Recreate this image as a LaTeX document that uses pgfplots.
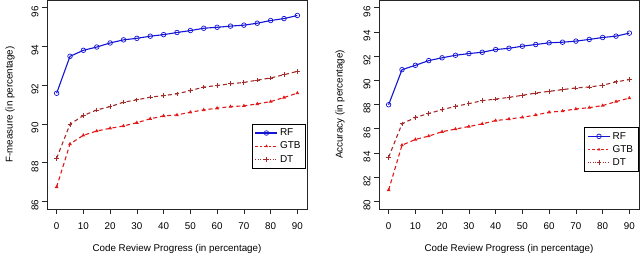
\documentclass[border=0pt]{standalone}
\usepackage{pgfplots}
\pgfplotsset{compat=1.18}
\usepackage{fontspec}
\setmainfont{Liberation Sans}
\definecolor{rfblue}{RGB}{20,20,215}
\definecolor{gtbred}{RGB}{225,25,25}
\definecolor{dtbrown}{RGB}{165,42,42}
\pgfplotsset{
 myaxis/.style={
  scale only axis, width=260bp, height=209bp,
  xmin=-3.6, xmax=93.6,
  xtick={0,10,...,90},
  tick align=outside, major tick length=5bp,
  xtick pos=left, ytick pos=left,
  font=\fontsize{9.8bp}{11bp}\selectfont,
  /pgf/number format/assume math mode=true,
  xticklabel style={yshift=-5bp},
  yticklabel style={rotate=90, anchor=south, xshift=-4bp},
  xlabel={Code Review Progress (in percentage)},
  every axis x label/.style={at={(axis description cs:0.5,-0.193)}, anchor=center},
  axis line style={black!85, line width=0.7bp},
  tick style={black!85, line width=0.7bp},
  legend style={draw=black, line width=0.8bp, fill=white, font=\fontsize{10bp}{10bp}\selectfont,
    inner xsep=3bp, inner ysep=2.5bp, row sep=0.8bp, anchor=north east,
    /tikz/every even column/.append style={column sep=4bp}},
  legend cell align=left,
  legend image code/.code={\draw[mark repeat=2,mark phase=2,##1] plot coordinates {(0bp,0bp) (11bp,0bp) (22bp,0bp)};},
 },
 rf/.style={rfblue, line width=1.1bp, mark=o, mark size=2.3bp, mark options={solid, line width=0.7bp}},
 gtb/.style={gtbred, line width=1.1bp, dash pattern=on 4bp off 3bp, mark=triangle*, mark size=1.1bp, mark options={solid}},
 dt/.style={dtbrown, line width=1.1bp, dash pattern=on 4bp off 3bp, mark=+, mark size=2.3bp, mark options={solid, line width=0.8bp}},
 gtbleg/.style={legend image code/.code={\draw[mark repeat=2,mark phase=2,##1, dash pattern=on 2.5bp off 2bp, line width=0.7bp] plot coordinates {(0bp,0bp) (11bp,0bp) (22bp,0bp)};}},
 dtleg/.style={legend image code/.code={\draw[mark repeat=2,mark phase=2,##1, dash pattern=on 1bp off 1.5bp, line width=0.7bp] plot coordinates {(0bp,0bp) (11bp,0bp) (22bp,0bp)};}},
}
\begin{document}
\begin{tikzpicture}
\path[use as bounding box] (0,0) rectangle (640bp,261bp);
\begin{axis}[myaxis, at={(47bp,52bp)}, anchor=south west,
  ymin=85.6, ymax=96.4, ytick={86,88,...,96},
  ylabel={F-measure (in percentage)},
  every axis y label/.style={at={(axis description cs:-0.142,0.5)}, rotate=90, anchor=center},
  legend style={at={(axis description cs:0.996,0.407)}}]
\addplot[rf] coordinates {(0,91.58)(5,93.49)(10,93.80)(15,93.97)(20,94.18)(25,94.34)(30,94.42)(35,94.53)(40,94.61)(45,94.72)(50,94.82)(55,94.94)(60,94.99)(65,95.05)(70,95.10)(75,95.20)(80,95.34)(85,95.44)(90,95.60)};
\addlegendentry{RF}
\addplot[gtb, gtbleg] coordinates {(0,86.74)(5,88.96)(10,89.41)(15,89.63)(20,89.77)(25,89.89)(30,90.06)(35,90.26)(40,90.41)(45,90.46)(50,90.60)(55,90.72)(60,90.81)(65,90.89)(70,90.93)(75,91.03)(80,91.15)(85,91.36)(90,91.59)};
\addlegendentry{GTB}
\addplot[dt, dtleg] coordinates {(0,88.22)(5,89.98)(10,90.43)(15,90.72)(20,90.89)(25,91.12)(30,91.24)(35,91.38)(40,91.46)(45,91.55)(50,91.72)(55,91.90)(60,91.98)(65,92.07)(70,92.14)(75,92.26)(80,92.37)(85,92.54)(90,92.71)};
\addlegendentry{DT}
\end{axis}
\begin{axis}[myaxis, at={(379bp,52bp)}, anchor=south west,
  ymin=79.36, ymax=96.64, ytick={80,82,...,96},
  ylabel={Accuracy (in percentage)},
  every axis y label/.style={at={(axis description cs:-0.15,0.5)}, rotate=90, anchor=center},
  legend style={at={(axis description cs:0.998,0.391)}}]
\addplot[rf] coordinates {(0,87.98)(5,90.88)(10,91.24)(15,91.63)(20,91.86)(25,92.07)(30,92.21)(35,92.32)(40,92.54)(45,92.65)(50,92.82)(55,92.96)(60,93.10)(65,93.15)(70,93.24)(75,93.38)(80,93.54)(85,93.65)(90,93.90)};
\addlegendentry{RF}
\addplot[gtb, gtbleg] coordinates {(0,80.93)(5,84.64)(10,85.11)(15,85.39)(20,85.75)(25,85.97)(30,86.18)(35,86.40)(40,86.67)(45,86.80)(50,86.94)(55,87.13)(60,87.36)(65,87.46)(70,87.63)(75,87.74)(80,87.91)(85,88.24)(90,88.53)};
\addlegendentry{GTB}
\addplot[dt, dtleg] coordinates {(0,83.64)(5,86.40)(10,86.93)(15,87.26)(20,87.57)(25,87.85)(30,88.07)(35,88.32)(40,88.45)(45,88.59)(50,88.76)(55,88.95)(60,89.09)(65,89.23)(70,89.37)(75,89.45)(80,89.59)(85,89.87)(90,90.06)};
\addlegendentry{DT}
\end{axis}
\end{tikzpicture}
\end{document}
